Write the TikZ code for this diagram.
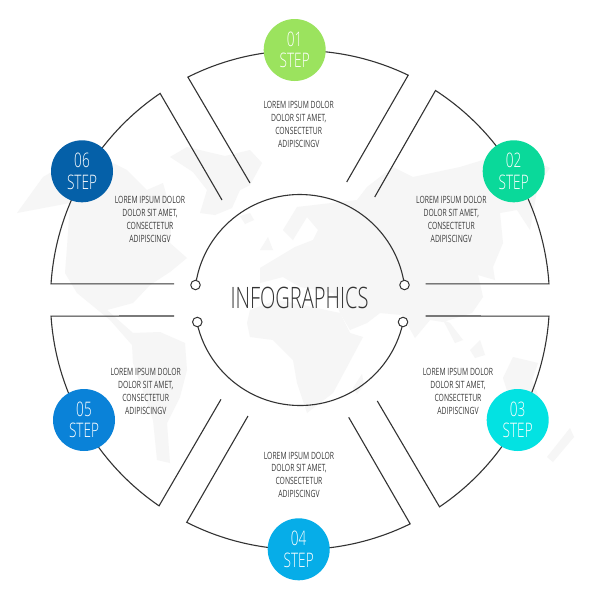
\documentclass[tikz,border=0pt]{standalone}
\usepackage{fontspec}
\setmainfont[FakeStretch=0.68]{Open Sans}
\newfontfamily\thinfont[FakeStretch=0.68]{Open Sans Light}
\definecolor{linec}{HTML}{333333}
\definecolor{mapc}{HTML}{F6F6F6}
\definecolor{txtc}{HTML}{3A3A3A}
\definecolor{sA}{HTML}{9BE35E}
\definecolor{sB}{HTML}{0AD99A}
\definecolor{sC}{HTML}{03E2E2}
\definecolor{sD}{HTML}{06ADE8}
\definecolor{sE}{HTML}{0A82D8}
\definecolor{sF}{HTML}{0560A8}
\tikzset{
  seg/.style={draw=linec,line width=1.1pt,line join=miter},
  land/.style={fill=mapc,draw=none},
  stepdisc/.style={circle,minimum size=62pt,inner sep=0pt,draw=none,text=white,align=center,
    font=\thinfont\fontsize{20}{21.5}\selectfont},
  dot/.style={circle,minimum size=9.5pt,inner sep=0pt,draw=linec,line width=1pt,fill=white},
  info/.style={align=center,text=txtc,inner sep=0pt,font=\fontsize{10}{12.8}\selectfont},
  title/.style={text=linec,inner sep=0pt,font=\thinfont\fontsize{29.5}{30}\selectfont}
}
\newcommand{\loremtext}{LOREM IPSUM DOLOR\\DOLOR SIT AMET,\\CONSECTETUR\\ADIPISCINGV}
\begin{document}
\begin{tikzpicture}[x=1pt,y=-1pt]
\fill[white] (0,0) rectangle (600,600);
\useasboundingbox (0,0) rectangle (600,600);
% world map: the Americas
\fill[land] (17,213) -- (43,177) -- (62,166) -- (113,163) -- (127,170) -- (147,190) -- (163,183) -- (172,215) -- (170,243) -- (187,258) -- (170,272) -- (150,285) -- (133,303) -- (107,310) -- (133,333) -- (160,332) -- (185,343) -- (187,370) -- (180,397) -- (167,423) -- (170,463) -- (157,460) -- (153,420) -- (133,363) -- (132,345) -- (110,320) -- (77,293) -- (65,273) -- (67,247) -- (70,203) -- cycle;
% Greenland and Iceland
\fill[land] (170,157) -- (187,147) -- (208,152) -- (225,156) -- (250,150) -- (262,163) -- (250,185) -- (240,190) -- (232,208) -- (215,215) -- (200,213) -- (207,190) -- (193,172) -- cycle;
\fill[land] (240,216) -- (250,213) -- (254,220) -- (245,224) -- cycle;
% Britain
\fill[land] (260,250) -- (268,237) -- (273,250) -- cycle;
% Eurasia
\fill[land] (260,268) -- (270,262) -- (295,247) -- (313,240) -- (318,230) -- (307,217) -- (293,240) -- (283,230) -- (297,207) -- (357,200) -- (367,187) -- (393,167) -- (413,177) -- (460,167) -- (483,160) -- (512,150) -- (550,168) -- (538,185) -- (530,230) -- (517,210) -- (500,213) -- (503,243) -- (493,267) -- (495,280) -- (478,275) -- (483,297) -- (472,313) -- (443,322) -- (430,320) -- (415,338) -- (402,315) -- (380,313) -- (367,323) -- (350,330) -- (340,313) -- (333,293) -- (300,287) -- (283,277) -- (260,283) -- cycle;
% Africa
\fill[land] (250,310) -- (277,300) -- (293,303) -- (340,313) -- (350,333) -- (363,337) -- (347,367) -- (333,393) -- (307,413) -- (297,383) -- (293,360) -- (273,340) -- (250,337) -- (247,323) -- cycle;
\fill[land] (353,388) -- (362,374) -- (364,385) -- (357,394) -- cycle;
% South-East Asia and Oceania
\fill[land] (443,320) -- (450,323) -- (463,340) -- (455,343) -- cycle;
\fill[land] (470,350) -- (480,340) -- (485,355) -- (475,358) -- cycle;
\fill[land] (503,378) -- (513,357) -- (538,363) -- (532,380) -- (540,400) -- (510,400) -- cycle;
\fill[land] (547,457) -- (570,428) -- (574,437) -- (553,462) -- cycle;
% sector outlines
\begin{scope}[shift={(300,300)}]
\draw[seg] (-50,-117) -- (-116.7:249.5) arc[start angle=-116.7,end angle=-64.3,radius=249.5] -- (46.7,-118);
\draw[seg] (74.7,-103) -- (-57.1:249.5) arc[start angle=-57.1,end angle=-3.7,radius=249.5] -- (125.7,-16.2);
\draw[seg] (125.7,16) -- (3.7:249.5) arc[start angle=3.7,end angle=56,radius=249.5] -- (77.3,101);
\draw[seg] (48.7,117.3) -- (63.8:249.5) arc[start angle=63.8,end angle=117,radius=249.5] -- (-52,116);
\draw[seg] (-79,99.3) -- (124.4:249.5) arc[start angle=124.4,end angle=176.3,radius=249.5] -- (-126,16);
\draw[seg] (-126,-16.2) -- (183.7:249.5) arc[start angle=183.7,end angle=235.9,radius=249.5] -- (-78,-100);
% central arcs
\draw[seg] (188.2:105.5) arc[start angle=188.2,end angle=351.8,radius=105.5];
\draw[seg] (12.1:105.5) arc[start angle=12.1,end angle=167.9,radius=105.5];
\end{scope}
\node[dot] (d1) at (195.5,285) {};
\node[dot] (d2) at (404.5,285) {};
\node[dot] (d3) at (403,322) {};
\node[dot] (d4) at (197.3,322) {};
% step discs
\node[stepdisc,fill=sA] (s1) at (294.7,50) {01\\STEP};
\node[stepdisc,fill=sB] (s2) at (513.7,171.3) {02\\STEP};
\node[stepdisc,fill=sC] (s3) at (517.7,420) {03\\STEP};
\node[stepdisc,fill=sD] (s4) at (298.7,549.3) {04\\STEP};
\node[stepdisc,fill=sE] (s5) at (84,420) {05\\STEP};
\node[stepdisc,fill=sF] (s6) at (82,171.3) {06\\STEP};
% texts
\node[info] (t1) at (298.7,124.3) {\loremtext};
\node[info] (t2) at (451.3,219.5) {\loremtext};
\node[info] (t3) at (458,391.5) {\loremtext};
\node[info] (t4) at (299,474.8) {\loremtext};
\node[info] (t5) at (145.7,391.5) {\loremtext};
\node[info] (t6) at (150,219.5) {\loremtext};
\node[title] (main) at (299.5,298) {INFOGRAPHICS};
\end{tikzpicture}
\end{document}
